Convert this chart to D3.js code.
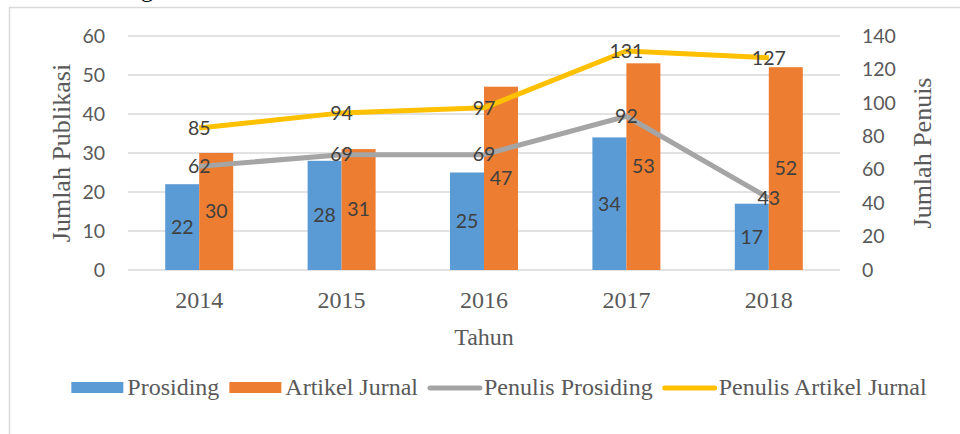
<!DOCTYPE html>
<html>
<head>
<meta charset="utf-8">
<script src="https://cdn.jsdelivr.net/npm/d3@7"></script>
<style>
  body { margin: 0; background: #fff; }
  svg { display: block; }
</style>
</head>
<body>
<svg id="chart"></svg>
<script>
// data
let years = ['2014', '2015', '2016', '2017', '2018'];
let prosiding = [22, 28, 25, 34, 17];
let artikelJurnal = [30, 31, 47, 53, 52];
let penulisProsiding = [62, 69, 69, 92, 43];
let penulisArtikel = [85, 94, 97, 131, 127];
let leftTicks = [0, 10, 20, 30, 40, 50, 60];
let rightTicks = [0, 20, 40, 60, 80, 100, 120, 140];

let w = 960;
let h = 434;
let plotLeft = 128, plotRight = 840, plotTop = 36, plotBottom = 270;

let numFont = 'Lato, "Open Sans", sans-serif';
let serif = '"Liberation Serif", "DejaVu Serif", serif';

let svg = d3.select('#chart').attr('width', w).attr('height', h);

// frame of the figure (clipped at the top)
svg.append('path')
  .attr('d', `M9.5,${h} V7.5 H${w}`)
  .attr('fill', 'none')
  .attr('stroke', '#d9d9d9')
  .attr('stroke-width', 1.5);

svg.append('text')
  .attr('x', 147).attr('y', -3)
  .attr('text-anchor', 'middle')
  .style('font-family', serif).style('font-size', '24px')
  .attr('fill', '#000')
  .text('g');

let xScale = d3.scaleBand().domain(years).range([plotLeft, plotRight]);
let yLeft = d3.scaleLinear().domain([0, 60]).range([plotBottom, plotTop]);
let yRight = d3.scaleLinear().domain([0, 140]).range([plotBottom, plotTop]);
let sub = d3.scaleBand().domain(['p', 'a']).range([-34, 34]);

const cx = d => xScale(d) + xScale.bandwidth() / 2;

// gridlines
svg.append('g').selectAll('line')
  .data(leftTicks)
  .enter()
  .append('line')
  .attr('x1', plotLeft).attr('x2', plotRight)
  .attr('y1', d => yLeft(d)).attr('y2', d => yLeft(d))
  .attr('stroke', '#d9d9d9')
  .attr('stroke-width', 1.5);

// left axis labels
let leftAxis = d3.axisLeft(yLeft).tickValues(leftTicks).tickSize(0).tickPadding(0);
let gl = svg.append('g').attr('transform', 'translate(105,0)').call(leftAxis);
gl.select('.domain').remove();
gl.selectAll('text')
  .style('font-family', numFont).style('font-size', '19.5px')
  .attr('fill', '#595959');

// right axis labels
let rightAxis = d3.axisRight(yRight).tickValues(rightTicks).tickSize(0).tickPadding(0);
let gr = svg.append('g').attr('transform', 'translate(862,0)').call(rightAxis);
gr.select('.domain').remove();
gr.selectAll('text')
  .style('font-family', numFont).style('font-size', '19.5px')
  .attr('fill', '#595959');

// x axis labels
let xAxis = d3.axisBottom(xScale).tickSize(0).tickPadding(0);
let gx = svg.append('g').attr('transform', 'translate(0,' + (plotBottom + 21) + ')').call(xAxis);
gx.select('.domain').remove();
gx.selectAll('text')
  .style('font-family', serif).style('font-size', '24px')
  .attr('fill', '#595959');

// axis titles
svg.append('text')
  .attr('transform', 'translate(70,153) rotate(-90)')
  .attr('text-anchor', 'middle')
  .style('font-family', serif).style('font-size', '26px')
  .attr('fill', '#595959')
  .text('Jumlah Publikasi');

svg.append('text')
  .attr('transform', 'translate(931,153) rotate(-90)')
  .attr('text-anchor', 'middle')
  .style('font-family', serif).style('font-size', '26px')
  .attr('fill', '#595959')
  .text('Jumlah Penuis');

svg.append('text')
  .attr('x', (plotLeft + plotRight) / 2).attr('y', 345)
  .attr('text-anchor', 'middle')
  .style('font-family', serif).style('font-size', '24px')
  .attr('fill', '#595959')
  .text('Tahun');

// bars
let barSeries = [
  {key: 'p', values: prosiding, color: '#5B9BD5'},
  {key: 'a', values: artikelJurnal, color: '#ED7D31'}
];

barSeries.forEach(s => {
  svg.append('g').selectAll('rect')
    .data(years)
    .enter()
    .append('rect')
    .attr('x', (d, i) => cx(d) + sub(s.key))
    .attr('width', sub.bandwidth())
    .attr('y', (d, i) => yLeft(s.values[i]))
    .attr('height', (d, i) => plotBottom - yLeft(s.values[i]))
    .attr('fill', s.color);
});

// lines
let lineSeries = [
  {values: penulisProsiding, color: '#A5A5A5'},
  {values: penulisArtikel, color: '#FFC000'}
];

lineSeries.forEach(s => {
  let line = d3.line()
    .x((d, i) => cx(years[i]))
    .y(d => yRight(d));
  svg.append('path')
    .datum(s.values)
    .attr('d', line)
    .attr('fill', 'none')
    .attr('stroke', s.color)
    .attr('stroke-width', 5)
    .attr('stroke-linejoin', 'round');
});

// data labels
barSeries.forEach(s => {
  svg.append('g').selectAll('text')
    .data(years)
    .enter()
    .append('text')
    .attr('x', d => cx(d) + sub(s.key) + sub.bandwidth() / 2)
    .attr('y', (d, i) => (yLeft(s.values[i]) + plotBottom) / 2)
    .attr('dy', '0.35em')
    .attr('text-anchor', 'middle')
    .style('font-family', numFont).style('font-size', '19.5px')
    .attr('fill', '#404040')
    .text((d, i) => s.values[i]);
});

lineSeries.forEach(s => {
  svg.append('g').selectAll('text')
    .data(s.values)
    .enter()
    .append('text')
    .attr('x', (d, i) => cx(years[i]))
    .attr('y', d => yRight(d))
    .attr('dy', '0.35em')
    .attr('text-anchor', 'middle')
    .style('font-family', numFont).style('font-size', '19.5px')
    .attr('fill', '#404040')
    .text(d => d);
});

// legend
let legendItems = [
  {label: 'Prosiding', color: '#5B9BD5', type: 'rect'},
  {label: 'Artikel Jurnal', color: '#ED7D31', type: 'rect'},
  {label: 'Penulis Prosiding', color: '#A5A5A5', type: 'line'},
  {label: 'Penulis Artikel Jurnal', color: '#FFC000', type: 'line'}
];

let legend = svg.append('g');
let lx = 0;
legendItems.forEach(item => {
  let g = legend.append('g').attr('transform', 'translate(' + lx + ',0)');
  if (item.type === 'rect') {
    g.append('rect')
      .attr('x', 0).attr('y', -6).attr('width', 52).attr('height', 11)
      .attr('fill', item.color);
  } else {
    g.append('line')
      .attr('x1', 2).attr('x2', 52).attr('y1', 0).attr('y2', 0)
      .attr('stroke', item.color).attr('stroke-width', 5)
      .attr('stroke-linecap', 'round');
  }
  let t = g.append('text')
    .attr('x', 56).attr('y', 7)
    .style('font-family', serif).style('font-size', '24px')
    .attr('fill', '#595959')
    .text(item.label);
  lx += 56 + t.node().getComputedTextLength() + 10;
});
let legendW = lx - 10;
legend.attr('transform', 'translate(' + (499 - legendW / 2) + ',388)');
</script>
</body>
</html>
